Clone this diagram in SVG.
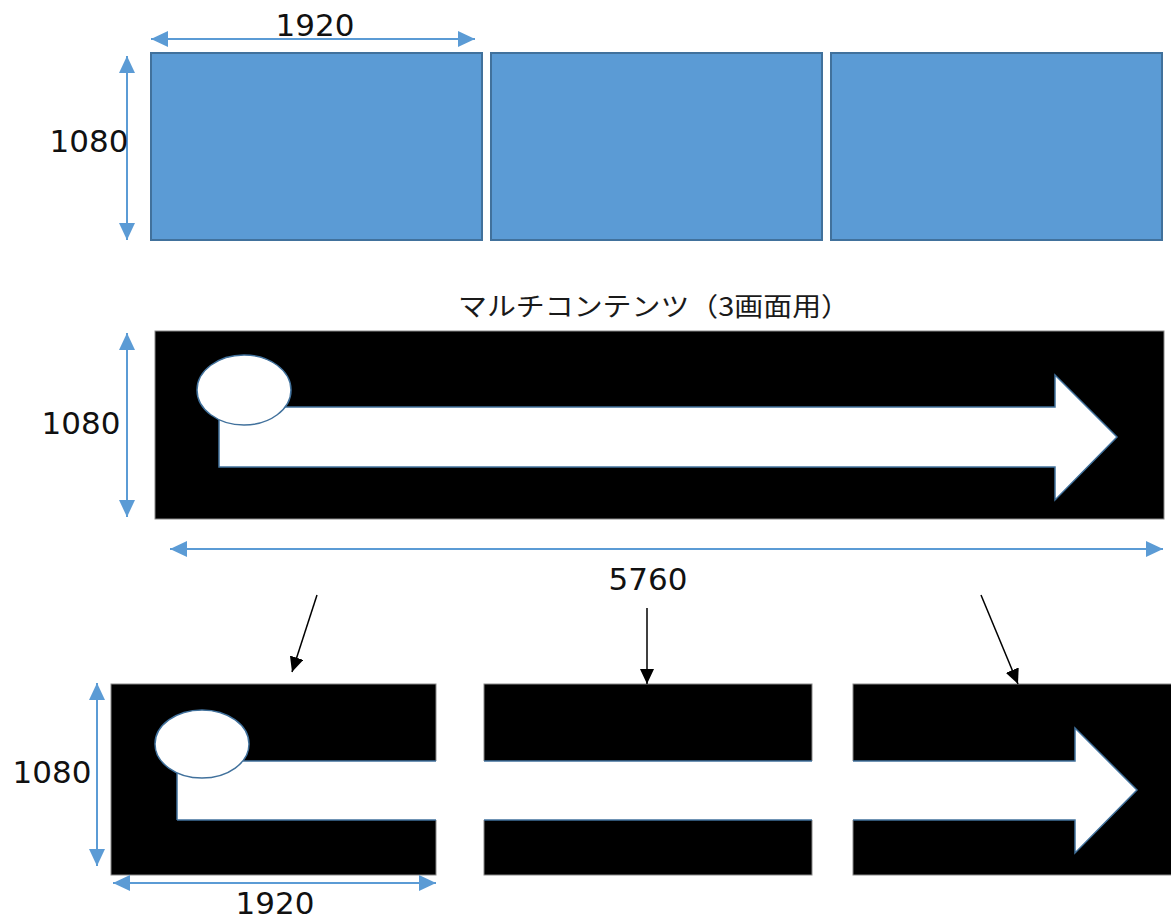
<svg xmlns="http://www.w3.org/2000/svg" width="1171" height="920" viewBox="0 0 1171 920">
<style>
.scr{fill:#5B9BD5;stroke:#41719C;stroke-width:2}
.blk{fill:#000;stroke:#888;stroke-width:1}
.wht{fill:#fff;stroke:#41719C;stroke-width:1.5;stroke-linejoin:miter}
.edge{stroke:#41719C;stroke-width:1.5}
.dim{stroke:#5B9BD5;stroke-width:2;fill:none;marker-start:url(#bh);marker-end:url(#bh)}
.ptr{stroke:#000;stroke-width:1.5;fill:none;marker-end:url(#kh)}
.num{font-family:"DejaVu Sans",Verdana,sans-serif;font-size:31px;fill:#111}
.jp{font-family:"Noto Sans CJK JP","Noto Sans",sans-serif;font-size:26px;fill:#1a1a1a}
</style>
<defs>
<marker id="bh" viewBox="0 0 17 16" refX="17" refY="8" markerWidth="17" markerHeight="16" markerUnits="userSpaceOnUse" orient="auto-start-reverse"><path d="M0,0 L17,8 L0,16 z" fill="#5B9BD5"/></marker>
<marker id="kh" viewBox="0 0 15 14" refX="15" refY="7" markerWidth="15" markerHeight="14" markerUnits="userSpaceOnUse" orient="auto"><path d="M0,0 L15,7 L0,14 z" fill="#000"/></marker>
</defs>
<rect width="1171" height="920" fill="#fff"/>

<g id="screen1"><rect class="scr" x="151" y="53" width="331" height="187"/></g>
<g id="screen2"><rect class="scr" x="491" y="53" width="331" height="187"/></g>
<g id="screen3"><rect class="scr" x="831" y="53" width="331" height="187"/></g>

<g id="content">
<rect class="blk" x="155" y="331" width="1009" height="188"/>
<polygon class="wht" points="219,407 1055,407 1055,375 1117,437 1055,500 1055,467 219,467"/>
<ellipse class="wht" cx="244" cy="390" rx="47" ry="35"/>
</g>

<g id="part1">
<rect class="blk" x="111" y="684" width="325" height="191"/>
<rect x="177" y="761" width="261" height="59" fill="#fff"/>
<line class="edge" x1="177" y1="761" x2="436" y2="761"/>
<line class="edge" x1="177" y1="820" x2="436" y2="820"/>
<line class="edge" x1="177" y1="761" x2="177" y2="820"/>
<ellipse class="wht" cx="202" cy="744" rx="47" ry="34"/>
</g>
<g id="part2">
<rect class="blk" x="484" y="684" width="328" height="191"/>
<rect x="483" y="761" width="330" height="59" fill="#fff"/>
<line class="edge" x1="484" y1="761" x2="812" y2="761"/>
<line class="edge" x1="484" y1="820" x2="812" y2="820"/>
</g>
<g id="part3">
<rect class="blk" x="853" y="684" width="320" height="191"/>
<polygon fill="#fff" points="852,761 1075,761 1075,728 1137,790 1075,853 1075,820 852,820"/>
<polyline class="edge" fill="none" points="853,761 1075,761 1075,728 1137,790 1075,853 1075,820 853,820"/>
</g>

<g id="connectors">
<line class="dim" x1="151" y1="39" x2="475" y2="39"/>
<line class="dim" x1="127" y1="56" x2="127" y2="240"/>
<line class="dim" x1="127" y1="333" x2="127" y2="517"/>
<line class="dim" x1="170" y1="549" x2="1163" y2="549"/>
<line class="dim" x1="97" y1="683" x2="97" y2="866"/>
<line class="dim" x1="113" y1="883" x2="436" y2="883"/>
<line class="ptr" x1="317" y1="595" x2="292" y2="672"/>
<line class="ptr" x1="647" y1="608" x2="647" y2="684"/>
<line class="ptr" x1="981" y1="595" x2="1018" y2="684"/>
</g>

<g id="labels">
<text class="num" x="315" y="36" text-anchor="middle">1920</text>
<text class="num" x="89" y="152" text-anchor="middle">1080</text>
<text class="jp" x="458" y="316" textLength="392" lengthAdjust="spacingAndGlyphs">マルチコンテンツ（3画面用）</text>
<text class="num" x="81" y="434" text-anchor="middle">1080</text>
<text class="num" x="648" y="590" text-anchor="middle">5760</text>
<text class="num" x="52" y="783" text-anchor="middle">1080</text>
<text class="num" x="275" y="914" text-anchor="middle">1920</text>
</g>
</svg>
